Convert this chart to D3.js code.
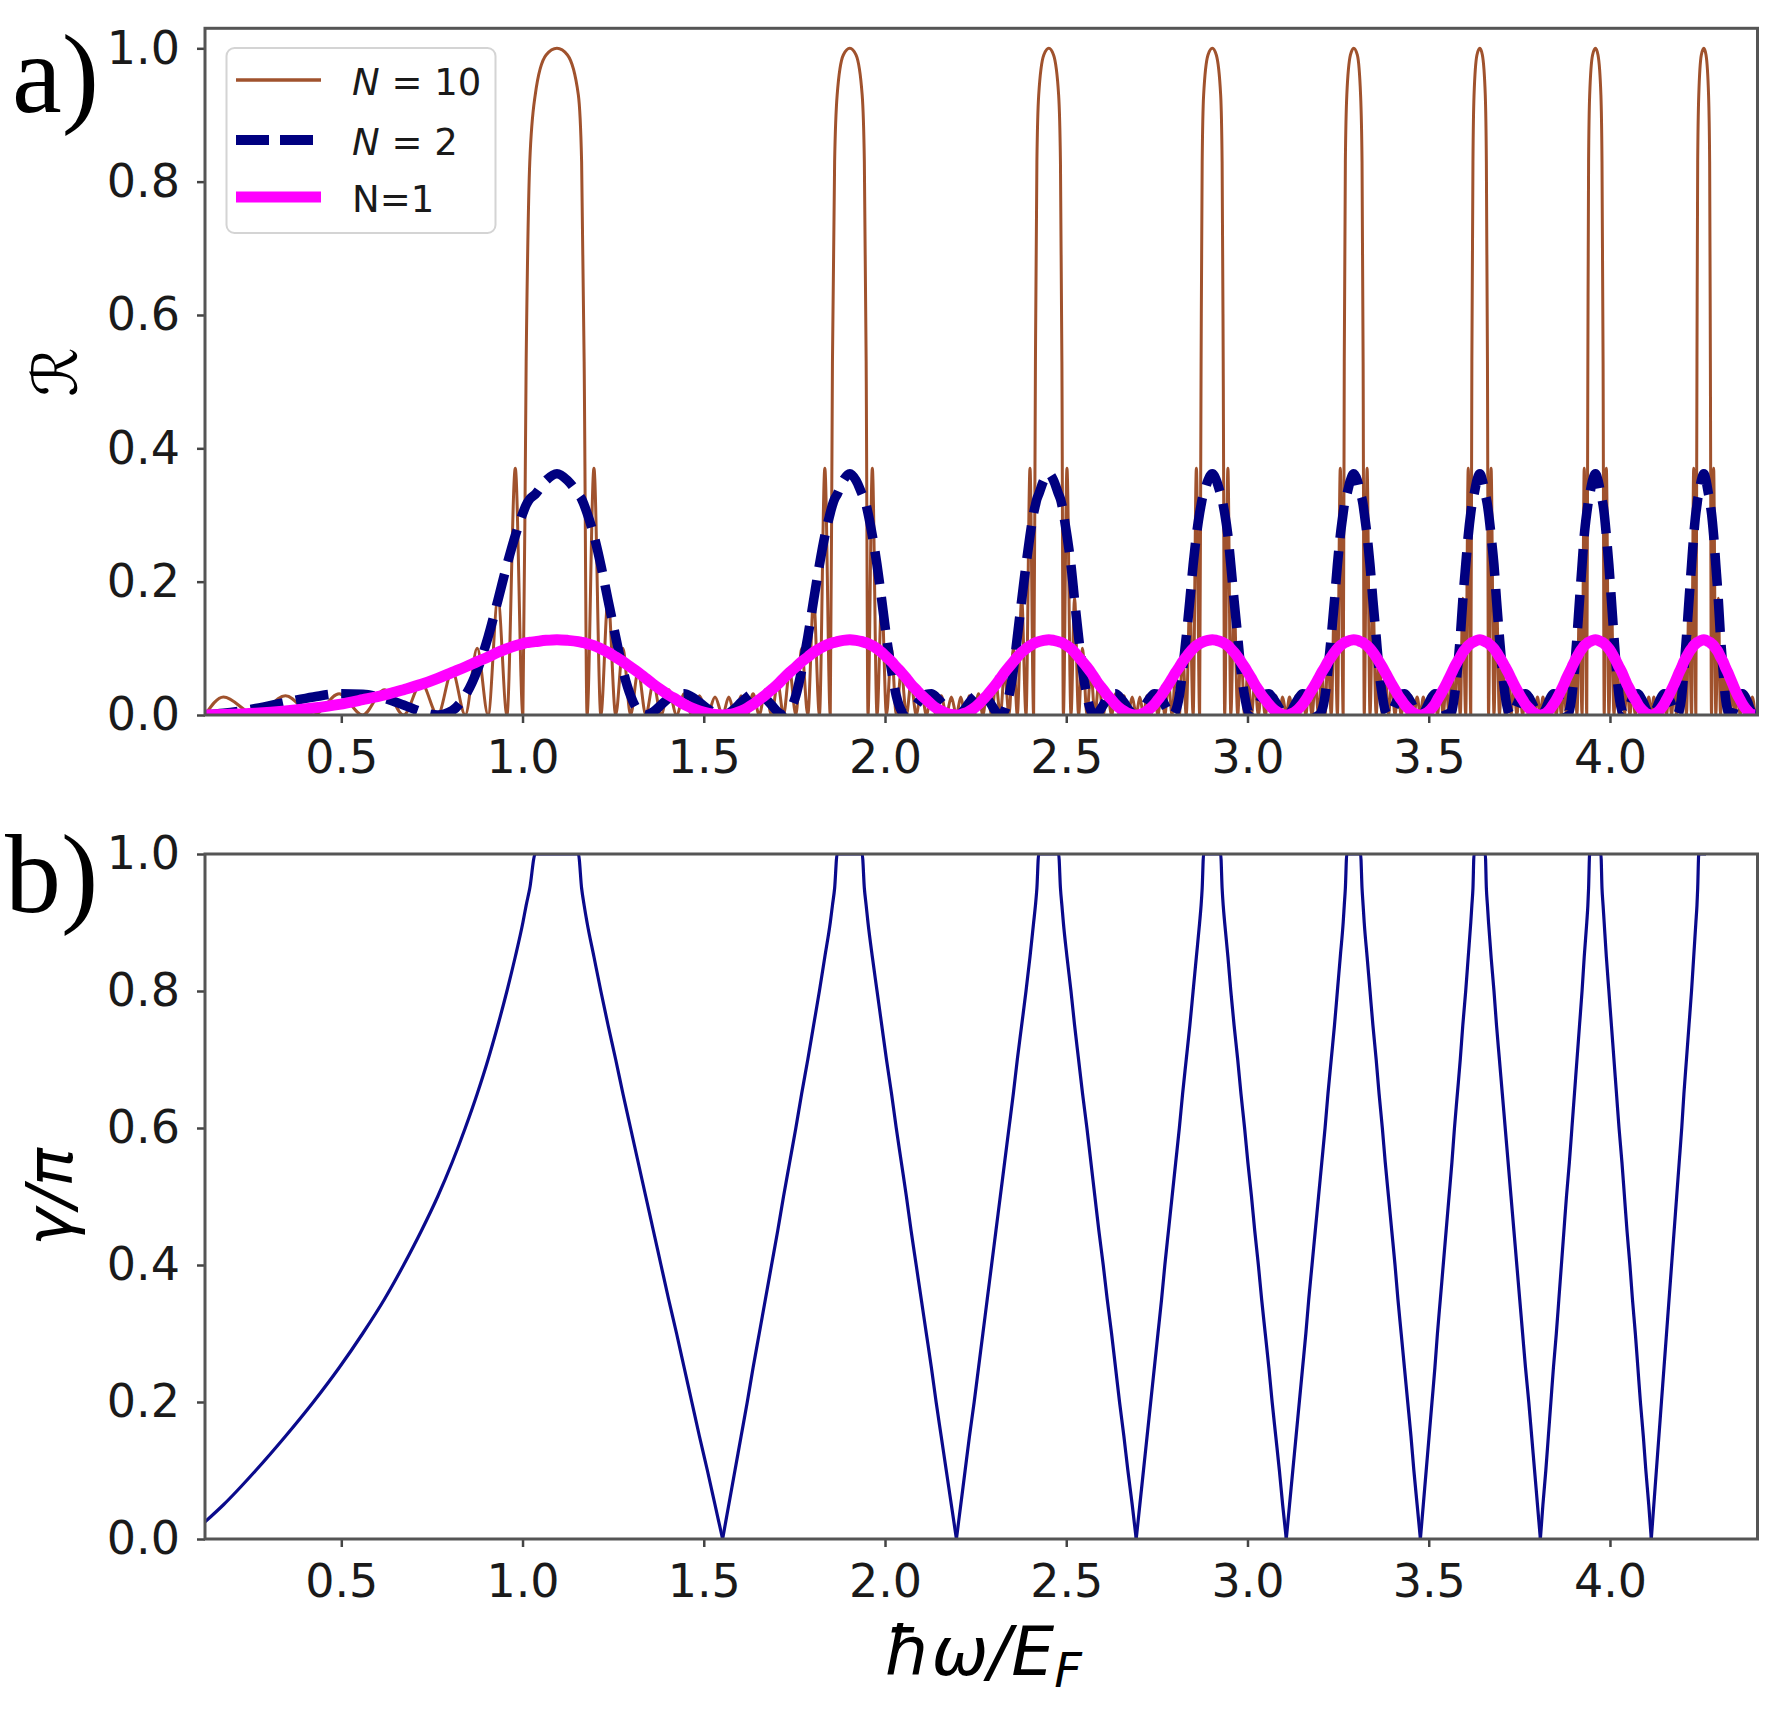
<!DOCTYPE html>
<html>
<head>
<meta charset="utf-8">
<script src="https://cdnjs.cloudflare.com/ajax/libs/d3/7.8.5/d3.min.js"></script>
<style>
    body { margin: 0; background: #fff; }
    svg { display: block; }
</style>
</head>
<body>
<div id="chart"></div>
<script>
"use strict";

// ---- data -----------------------------------------------------------------
const xTicks = [0.5, 1.0, 1.5, 2.0, 2.5, 3.0, 3.5, 4.0];
const yTicks = [0, 0.2, 0.4, 0.6, 0.8, 1.0];
const legendLabels = ["N = 10", "N = 2", "N=1"];

// x samples on each branch between the gaps, listed from the gap edge
// out to the point where gamma touches 0 (even index: branch rising into a gap)
const branchX = [
    [1.035, 1.020, 1.010, 1.001, 0.980, 0.957, 0.932, 0.905, 0.875, 0.842, 0.806, 0.766, 0.721, 0.672, 0.619, 0.559, 0.494, 0.423, 0.346, 0.264, 0.175, 0.124],
    [1.154, 1.163, 1.170, 1.178, 1.197, 1.216, 1.236, 1.257, 1.277, 1.298, 1.319, 1.340, 1.361, 1.382, 1.403, 1.425, 1.446, 1.467, 1.488, 1.510, 1.531, 1.552],
    [1.868, 1.861, 1.855, 1.849, 1.834, 1.819, 1.803, 1.787, 1.770, 1.754, 1.737, 1.720, 1.704, 1.687, 1.670, 1.653, 1.636, 1.620, 1.603, 1.586, 1.569, 1.552],
    [1.937, 1.943, 1.948, 1.953, 1.965, 1.978, 1.991, 2.004, 2.018, 2.031, 2.045, 2.059, 2.072, 2.086, 2.100, 2.114, 2.128, 2.141, 2.155, 2.169, 2.183, 2.197],
    [2.424, 2.419, 2.415, 2.410, 2.400, 2.389, 2.377, 2.365, 2.354, 2.342, 2.330, 2.318, 2.306, 2.294, 2.282, 2.270, 2.258, 2.246, 2.233, 2.221, 2.209, 2.197],
    [2.479, 2.484, 2.488, 2.492, 2.502, 2.513, 2.523, 2.534, 2.545, 2.557, 2.568, 2.579, 2.590, 2.602, 2.613, 2.625, 2.636, 2.647, 2.659, 2.670, 2.682, 2.693],
    [2.879, 2.875, 2.872, 2.868, 2.859, 2.850, 2.841, 2.831, 2.821, 2.812, 2.802, 2.792, 2.782, 2.772, 2.763, 2.753, 2.743, 2.733, 2.723, 2.713, 2.703, 2.693],
    [2.926, 2.930, 2.933, 2.937, 2.946, 2.954, 2.963, 2.973, 2.982, 2.992, 3.001, 3.011, 3.020, 3.030, 3.039, 3.049, 3.059, 3.068, 3.078, 3.088, 3.097, 3.107],
    [3.274, 3.270, 3.267, 3.264, 3.256, 3.248, 3.240, 3.231, 3.222, 3.214, 3.205, 3.196, 3.187, 3.178, 3.169, 3.161, 3.152, 3.143, 3.134, 3.125, 3.116, 3.107],
    [3.312, 3.316, 3.319, 3.322, 3.330, 3.338, 3.346, 3.355, 3.363, 3.372, 3.380, 3.389, 3.398, 3.407, 3.415, 3.424, 3.433, 3.442, 3.451, 3.459, 3.468, 3.477],
    [3.625, 3.622, 3.619, 3.616, 3.609, 3.602, 3.594, 3.587, 3.579, 3.571, 3.564, 3.556, 3.548, 3.540, 3.532, 3.524, 3.517, 3.509, 3.501, 3.493, 3.485, 3.477],
    [3.656, 3.659, 3.662, 3.665, 3.672, 3.680, 3.687, 3.695, 3.703, 3.711, 3.719, 3.727, 3.735, 3.743, 3.751, 3.759, 3.767, 3.776, 3.784, 3.792, 3.800, 3.808],
    [3.944, 3.941, 3.939, 3.936, 3.929, 3.923, 3.916, 3.909, 3.902, 3.895, 3.888, 3.880, 3.873, 3.866, 3.859, 3.852, 3.844, 3.837, 3.830, 3.823, 3.815, 3.808],
    [3.975, 3.978, 3.981, 3.984, 3.990, 3.997, 4.004, 4.011, 4.018, 4.025, 4.033, 4.040, 4.047, 4.055, 4.062, 4.070, 4.077, 4.084, 4.092, 4.099, 4.107, 4.114],
    [4.245, 4.242, 4.240, 4.237, 4.231, 4.225, 4.218, 4.211, 4.204, 4.198, 4.191, 4.184, 4.177, 4.170, 4.163, 4.156, 4.149, 4.142, 4.135, 4.128, 4.121, 4.114],
    [4.272, 4.275, 4.277, 4.280, 4.286, 4.292, 4.299, 4.305, 4.312, 4.318, 4.325, 4.332, 4.339, 4.345, 4.352, 4.359, 4.366, 4.373, 4.380, 4.386, 4.393, 4.400]
];

// values at those samples, same order (gap edge -> gamma = 0)
const gammaLevels = [1, 0.95, 0.925, 0.9, 0.85, 0.8, 0.75, 0.7, 0.65, 0.6, 0.55, 0.5, 0.45, 0.4, 0.35, 0.3, 0.25, 0.2, 0.15, 0.1, 0.05, 0];
const r10Levels = [0.93, 0.83, 0.53, 0, 0.37, 0, 0.175, 0, 0.10, 0, 0.066, 0, 0.048, 0, 0.038, 0, 0.032, 0, 0.029, 0, 0.027, 0];
const r2Levels = [0.331, 0.324, 0.315, 0.303, 0.269, 0.225, 0.172, 0.117, 0.067, 0.029, 0.0066, 0, 0.0048, 0.015, 0.025, 0.031, 0.032, 0.027, 0.019, 0.0097, 0.0026, 0];
const r1Levels = [0.110, 0.109, 0.1085, 0.107, 0.104, 0.0995, 0.094, 0.087, 0.080, 0.072, 0.064, 0.055, 0.046, 0.038, 0.030, 0.023, 0.016, 0.0105, 0.006, 0.0027, 0.0007, 0];
const gammaStart = 0.025;

// three points across the top of each gap (where gamma/pi = 1)
const gapTopX = [
    [1.065, 1.095, 1.124], [1.885, 1.903, 1.920], [2.438, 2.452, 2.465], [2.891, 2.903, 2.914],
    [3.284, 3.293, 3.303], [3.633, 3.641, 3.648], [3.952, 3.960, 3.967], [4.252, 4.259, 4.265]
];
const topR10 = [0.99, 1.0, 0.99];
const topR2 = [0.352, 0.362, 0.352];
const topR1 = [0.112, 0.113, 0.112];
const topGamma = [1, 1, 1];

// ---- layout -----------------------------------------------------------------
const width = 1784, height = 1715;
const left = 205, right = 1757.5;
const panelA = {top: 28.3, bottom: 715};
const panelB = {top: 854, bottom: 1539};
const font = "'DejaVu Sans', sans-serif";

let x = d3.scaleLinear().domain([0.124, 4.407]).range([left, right]);
let yA = d3.scaleLinear().domain([0, 1.03]).range([panelA.bottom, panelA.top]);
let yB = d3.scaleLinear().domain([0, 1]).range([panelB.bottom, panelB.top]);

/**
 * join the branches and the gap tops into one x-sorted list of points
 */
function buildSeries(levels, top, lastBranch) {
    let pts = [];
    branchX.forEach((xs, i) => {
        if (i > lastBranch) return;
        let rising = i % 2 === 0;
        let seg = xs.map((v, j) => [v, levels[j]]);
        if (rising) {
            seg.reverse();
            if (i > 0) seg.shift();   // gamma = 0 point already added by the previous branch
        }
        pts.push(...seg);
        if (rising) {
            gapTopX[i / 2].forEach((v, k) => pts.push([v, top[k]]));
        }
    });
    return pts;
}

let r10 = buildSeries(r10Levels, topR10, 15);
let r2 = buildSeries(r2Levels, topR2, 15);
let r1 = buildSeries(r1Levels, topR1, 15);
let gamma = buildSeries(gammaLevels, topGamma, 14);
gamma[0][1] = gammaStart;

// cut gamma at its zeros so every V keeps a sharp tip
let gammaSegments = [[]];
gamma.forEach((p, i) => {
    gammaSegments[gammaSegments.length - 1].push(p);
    if (p[1] === 0 && i > 0 && i < gamma.length - 1) gammaSegments.push([p]);
});

let svg = d3.select("#chart")
    .append("svg")
    .attr("width", width)
    .attr("height", height)
    .style("background", "#fff");

let defs = svg.append("defs");
[["clipA", panelA], ["clipB", panelB]].forEach(([id, p]) => {
    defs.append("clipPath").attr("id", id)
        .append("rect")
        .attr("x", left).attr("y", p.top)
        .attr("width", right - left).attr("height", p.bottom - p.top);
});

// ---- axes -------------------------------------------------------------------
function drawAxes(y, p) {
    let g = svg.append("g");
    g.append("g")
        .attr("transform", `translate(0,${p.bottom})`)
        .call(d3.axisBottom(x).tickValues(xTicks).tickFormat(d3.format(".1f")).tickSize(8).tickPadding(17));
    g.append("g")
        .attr("transform", `translate(${left},0)`)
        .call(d3.axisLeft(y).tickValues(yTicks).tickFormat(d3.format(".1f")).tickSize(8).tickPadding(17));
    g.selectAll(".domain").remove();
    g.selectAll(".tick line").attr("stroke", "#444").attr("stroke-width", 2.5);
    g.selectAll(".tick text")
        .attr("fill", "#1a1a1a")
        .style("font-size", "46px")
        .style("font-family", font);
}

function drawFrame(p) {
    svg.append("rect")
        .attr("x", left).attr("y", p.top)
        .attr("width", right - left).attr("height", p.bottom - p.top)
        .attr("fill", "none")
        .attr("stroke", "#555")
        .attr("stroke-width", 3);
}

drawAxes(yA, panelA);
drawAxes(yB, panelB);

// ---- panel a ----------------------------------------------------------------
let lineA = d3.line()
    .x(d => x(d[0]))
    .y(d => yA(d[1]))
    .curve(d3.curveMonotoneX);

let plotA = svg.append("g").attr("clip-path", "url(#clipA)");

plotA.append("path")
    .datum(r10)
    .attr("d", lineA)
    .attr("fill", "none")
    .attr("stroke", "sienna")
    .attr("stroke-width", 3)
    .attr("stroke-linejoin", "round");

plotA.append("path")
    .datum(r2)
    .attr("d", lineA)
    .attr("fill", "none")
    .attr("stroke", "#000080")
    .attr("stroke-width", 9.5)
    .attr("stroke-dasharray", "33,13")
    .attr("stroke-linejoin", "round");

plotA.append("path")
    .datum(r1)
    .attr("d", lineA)
    .attr("fill", "none")
    .attr("stroke", "#ff00ff")
    .attr("stroke-width", 11)
    .attr("stroke-linejoin", "round");

// ---- panel b ----------------------------------------------------------------
let lineB = d3.line()
    .x(d => x(d[0]))
    .y(d => yB(d[1]))
    .curve(d3.curveMonotoneX);

svg.append("g").attr("clip-path", "url(#clipB)")
    .selectAll("path")
    .data(gammaSegments)
    .enter()
    .append("path")
    .attr("d", lineB)
    .attr("fill", "none")
    .attr("stroke", "#0a0a8c")
    .attr("stroke-width", 3.2)
    .attr("stroke-linejoin", "round");

drawFrame(panelA);
drawFrame(panelB);

// ---- legend -----------------------------------------------------------------
let legend = svg.append("g").attr("class", "legend");
legend.append("rect")
    .attr("x", 226.5).attr("y", 48)
    .attr("width", 269).attr("height", 185)
    .attr("rx", 8)
    .attr("fill", "#fff")
    .attr("stroke", "#d4d4d4")
    .attr("stroke-width", 2);

const legendStyles = [
    {stroke: "sienna", width: 3.5, dash: null},
    {stroke: "#000080", width: 10, dash: "33,11"},
    {stroke: "#ff00ff", width: 11, dash: null}
];
const rowY = [80, 140, 197];

legendLabels.forEach((label, i) => {
    let s = legendStyles[i];
    legend.append("line")
        .attr("x1", 236).attr("x2", 321)
        .attr("y1", rowY[i]).attr("y2", rowY[i])
        .attr("stroke", s.stroke)
        .attr("stroke-width", s.width)
        .attr("stroke-dasharray", s.dash);
    let t = legend.append("text")
        .attr("x", 352).attr("y", rowY[i] + 15)
        .attr("fill", "#1a1a1a")
        .style("font-family", font)
        .style("font-size", "37px");
    if (label.startsWith("N ")) {
        t.append("tspan").style("font-style", "italic").text("N");
        t.append("tspan").text(label.slice(1));
    } else {
        t.text(label);
    }
});

// ---- labels -----------------------------------------------------------------
svg.append("text")
    .attr("x", 12).attr("y", 112)
    .style("font-family", "'Liberation Serif', serif")
    .style("font-size", "112px")
    .text("a)");

svg.append("text")
    .attr("x", 5).attr("y", 912)
    .style("font-family", "'Liberation Serif', serif")
    .style("font-size", "112px")
    .text("b)");

svg.append("text")
    .attr("transform", "translate(77,372) rotate(-90)")
    .attr("text-anchor", "middle")
    .style("font-family", font)
    .style("font-size", "62px")
    .text("ℛ");

svg.append("text")
    .attr("transform", "translate(72,1197) rotate(-90)")
    .attr("text-anchor", "middle")
    .style("font-family", font)
    .style("font-style", "italic")
    .style("font-size", "64px")
    .text("γ/π");

let xlabel = svg.append("text")
    .attr("x", 983).attr("y", 1675)
    .attr("text-anchor", "middle")
    .style("font-family", font)
    .style("font-style", "italic")
    .style("font-size", "68px")
    .text("ħω/E");
xlabel.append("tspan")
    .attr("dy", 12)
    .style("font-size", "48px")
    .text("F");
</script>
</body>
</html>
